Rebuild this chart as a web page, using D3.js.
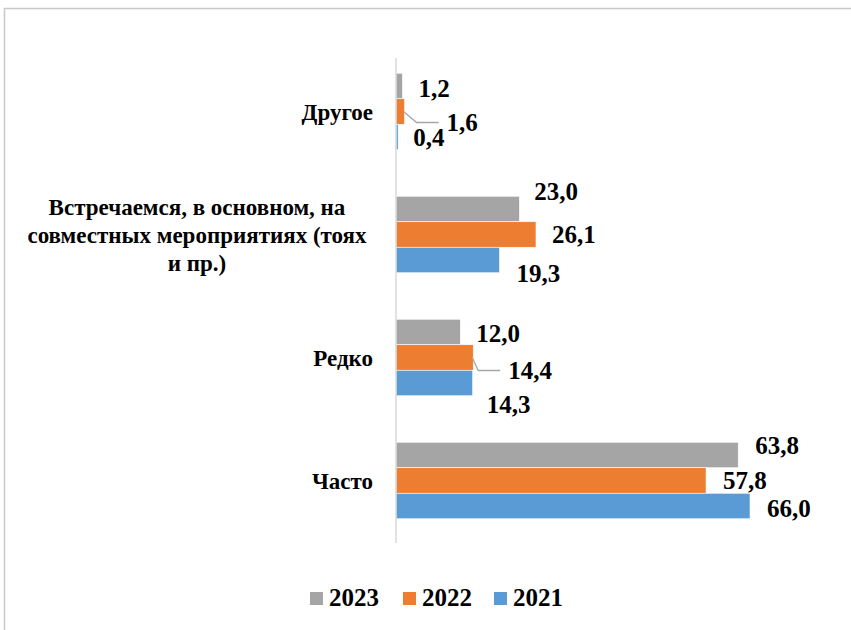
<!DOCTYPE html>
<meta charset="utf-8">
<svg width="851" height="630"></svg>
<script src="https://cdn.jsdelivr.net/npm/d3@7/dist/d3.min.js"></script>
<script>

    // data
    var categories = ["Другое", "Встречаемся, в основном, на совместных мероприятиях (тоях и пр.)", "Редко", "Часто"];
    var categoryLines = [["Другое"], ["Встречаемся, в основном, на", "совместных мероприятиях (тоях", "и пр.)"], ["Редко"], ["Часто"]];
    var series = ["2023", "2022", "2021"];
    var values2023 = [1.2, 23.0, 12.0, 63.8];
    var values2022 = [1.6, 26.1, 14.4, 57.8];
    var values2021 = [0.4, 19.3, 14.3, 66.0];
    var colors = ["#a5a5a5", "#ed7d31", "#5b9bd5"];

    // hand-moved data labels, [dx from bar end, dy from bar centre], per category then series
    var labelNudge = [
        [[16, 2], [42, 11], [15, 0]],
        [[15, -18], [16, 0], [17, 13]],
        [[16, 1], [35, 13], [14, 21]],
        [[17, -10], [17, 0], [17, 2.5]]
    ];
    // which labels get a leader line
    var leaders = [[0, 1], [2, 1]];

    var allValues = [values2023, values2022, values2021];

    d3.select("body").style("margin", "0px");

    var svg = d3.select("svg")
        .style("display", "block")
        .attr("font-family", "Liberation Serif")
        .attr("font-weight", "bold");

    // chart frame
    svg.append("path")
        .attr("d", "M4.5,630V8.5H851")
        .attr("fill", "none")
        .attr("stroke", "#c8c8c8")
        .attr("stroke-width", 1.5);

    var x = d3.scaleLinear()
        .domain([0, 70])
        .range([396, 396 + 70 * 5.364]);

    var y0 = d3.scaleBand()
        .domain(categories)
        .range([50, 542])
        .paddingInner(0.378)
        .paddingOuter(0.189);

    var y1 = d3.scaleBand()
        .domain(series)
        .range([0, y0.bandwidth()]);

    var fmt = function(v) { return d3.format(".1f")(v).replace(".", ","); };

    categories.forEach(function(cat, ci) {
        var g = svg.append("g")
            .attr("transform", "translate(0," + y0(cat) + ")");
        series.forEach(function(s, si) {
            var v = allValues[si][ci];
            g.append("rect")
                .attr("x", x(0))
                .attr("y", y1(s))
                .attr("width", x(v) - x(0))
                .attr("height", y1.bandwidth())
                .attr("fill", colors[si])
                .attr("stroke", "#fff")
                .attr("stroke-width", 0.6);
        });
        series.forEach(function(s, si) {
            var v = allValues[si][ci];
            var nd = labelNudge[ci][si];
            var cy = y1(s) + y1.bandwidth() / 2;
            var lx = x(v) + nd[0], ly = cy + nd[1];
            var hasLeader = leaders.some(function(p) { return p[0] === ci && p[1] === si; });
            if (hasLeader) {
                g.append("polyline")
                    .attr("points", [[x(v) - 1, cy], [lx - 30, ly], [lx - 8, ly]].map(function(p) { return p.join(","); }).join(" "))
                    .attr("fill", "none")
                    .attr("stroke", "#a6a6a6")
                    .attr("stroke-width", 1.3);
            }
            g.append("text")
                .attr("x", lx)
                .attr("y", ly)
                .attr("dy", "0.35em")
                .attr("font-size", 25)
                .text(fmt(v));
        });
    });

    // axis line
    svg.append("line")
        .attr("x1", x(0)).attr("x2", x(0))
        .attr("y1", 58).attr("y2", 543)
        .attr("stroke", "#d9d9d9")
        .attr("stroke-width", 1.5);

    // category labels
    categories.forEach(function(c, ci) {
        var lines = categoryLines[ci];
        var cy = y0(c) + y0.bandwidth() / 2;
        var t = svg.append("text")
            .attr("font-size", 23)
            .attr("text-anchor", lines.length > 1 ? "middle" : "end");
        lines.forEach(function(l, li) {
            t.append("tspan")
                .attr("x", lines.length > 1 ? 197 : 373)
                .attr("y", cy + (li - (lines.length - 1) / 2) * 28)
                .attr("dy", "0.35em")
                .text(l);
        });
    });

    // legend
    var legX = [310, 403, 494];
    series.forEach(function(s, i) {
        var lg = svg.append("g")
            .attr("transform", "translate(" + legX[i] + ",592)");
        lg.append("rect")
            .attr("width", 13).attr("height", 13)
            .attr("fill", colors[i]);
        lg.append("text")
            .attr("x", 19)
            .attr("y", 14)
            .attr("font-size", 25)
            .text(s);
    });

</script>
